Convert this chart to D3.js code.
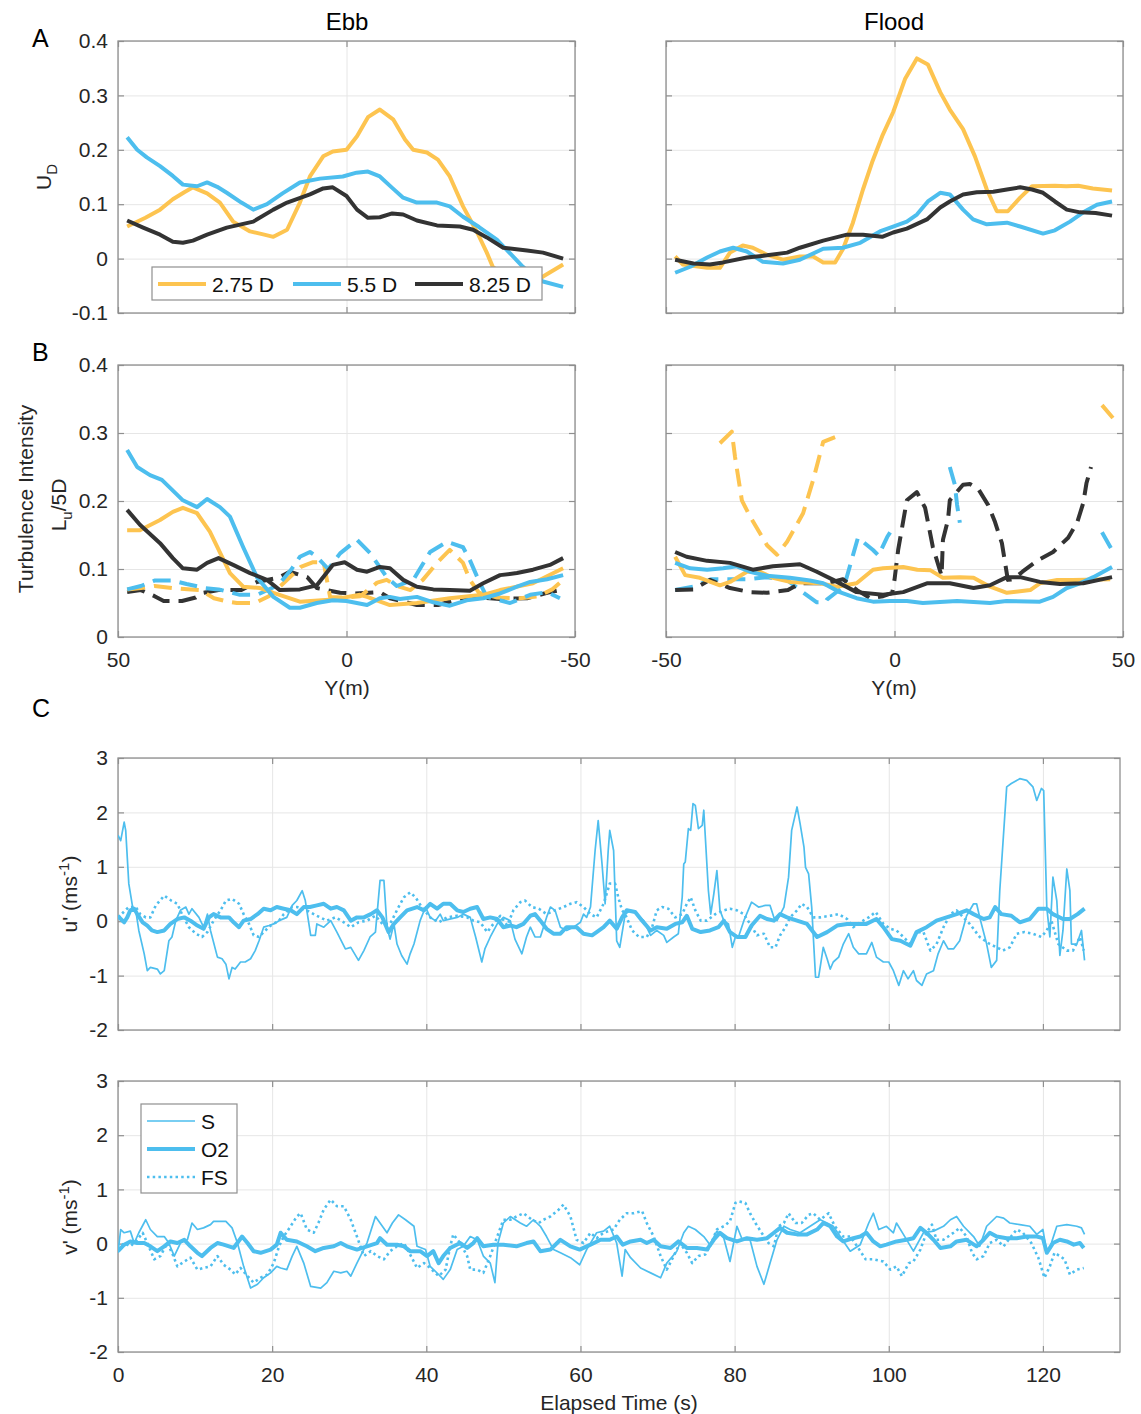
<!DOCTYPE html>
<html>
<head>
<meta charset="utf-8">
<script src="https://cdn.jsdelivr.net/npm/d3@7"></script>
<style>
  body { margin: 0; background: #fff; }
  text { font-family: "Liberation Sans", Arial, sans-serif; }
</style>
</head>
<body>
<svg id="svg"></svg>
<script>
// ---------- data ----------
// panel A : velocity deficit U_D vs Y(m)   [Y, U_D]
const ebbUD_275 = [[48,0.059],[44,0.075],[40.8,0.09],[38,0.109],[35.5,0.122],[33.6,0.131],[30.5,0.12],[27.7,0.103],[24.8,0.068],[21.1,0.05],[18,0.044],[16,0.04],[13,0.053],[10.2,0.103],[8,0.151],[5.1,0.188],[3,0.197],[0,0.2],[-2.3,0.225],[-4.7,0.26],[-7.3,0.274],[-10.2,0.256],[-12.8,0.219],[-14.6,0.2],[-17.6,0.195],[-20,0.182],[-22.6,0.151],[-25.5,0.096],[-28.6,0.048],[-30.7,0.011],[-32,-0.015],[-35,-0.035],[-38,-0.045],[-41,-0.045],[-43,-0.033],[-47.4,-0.011]]
const ebbUD_55 = [[48,0.223],[45.8,0.2],[43.7,0.186],[40.8,0.17],[38,0.152],[35.8,0.136],[32.7,0.133],[30.5,0.14],[28.3,0.132],[26.2,0.121],[23,0.103],[20.4,0.09],[17.4,0.1],[14,0.12],[10.2,0.14],[5.8,0.147],[0.8,0.151],[-2.2,0.158],[-4.7,0.16],[-7.3,0.151],[-10,0.13],[-12.4,0.112],[-15.4,0.103],[-19.8,0.103],[-22.6,0.096],[-25.5,0.077],[-29,0.058],[-32.9,0.035],[-38.6,-0.015],[-41,-0.032],[-43,-0.042],[-47.4,-0.052]]
const ebbUD_825 = [[48,0.07],[44.5,0.057],[40.8,0.044],[38,0.031],[35.8,0.029],[33.6,0.033],[30.5,0.044],[26.2,0.057],[20.4,0.068],[16,0.09],[13,0.103],[8,0.118],[5.1,0.129],[3,0.131],[0,0.115],[-2.3,0.09],[-4.7,0.075],[-7.3,0.076],[-10,0.083],[-12.4,0.081],[-15.4,0.07],[-19.8,0.061],[-24.8,0.059],[-27.7,0.053],[-30.7,0.039],[-34.3,0.02],[-39.5,0.015],[-43,0.011],[-47.4,0.0]]
const floodUD_275 = [[-48,0.004],[-46.3,-0.011],[-41,-0.017],[-38.2,-0.017],[-36,0.011],[-33.2,0.024],[-31,0.02],[-27.9,0.007],[-24.4,-0.002],[-20.7,0.004],[-17.8,0.004],[-15.6,-0.007],[-13,-0.007],[-11.3,0.017],[-9.1,0.066],[-6.9,0.127],[-4.9,0.177],[-2.7,0.225],[-0.3,0.269],[2.3,0.33],[4.9,0.368],[7.3,0.357],[10,0.306],[12.1,0.274],[15,0.238],[17.6,0.188],[20.2,0.127],[22.4,0.087],[24.8,0.087],[27.5,0.112],[30.1,0.133],[35.1,0.134],[37.6,0.133],[40.2,0.134],[43.4,0.129],[47.6,0.125]]
const floodUD_55 = [[-48,-0.026],[-44.7,-0.015],[-41,0.002],[-38.2,0.013],[-35.3,0.02],[-32.3,0.013],[-28.8,-0.006],[-24.4,-0.009],[-20.7,-0.002],[-15.6,0.018],[-11.3,0.02],[-7.5,0.029],[-3.2,0.05],[-0.3,0.059],[2.7,0.068],[4.9,0.081],[7.3,0.105],[10,0.121],[12.1,0.118],[15,0.09],[17.2,0.072],[20.2,0.063],[24.6,0.066],[27.5,0.059],[32.5,0.046],[35.1,0.052],[38.4,0.068],[41.3,0.085],[44.3,0.099],[47.6,0.105]]
const floodUD_825 = [[-48,-0.002],[-44,-0.009],[-40.4,-0.011],[-37.5,-0.007],[-32.3,0.002],[-27.9,0.006],[-23.5,0.011],[-20.7,0.02],[-15.6,0.033],[-10.4,0.044],[-6.9,0.044],[-2.7,0.04],[-0.3,0.048],[2.7,0.055],[7.1,0.072],[10,0.094],[12.1,0.105],[15,0.118],[18,0.122],[21.6,0.123],[24.6,0.127],[27.5,0.131],[30.1,0.127],[32.5,0.121],[35.1,0.105],[37.7,0.09],[40.6,0.085],[44,0.084],[47.6,0.079]]

// panel B : turbulence intensity (solid) and L_u/5D (dashed)   [Y, value]
const ebbTI_275 = [[48,0.157],[45.2,0.157],[40.8,0.172],[38,0.184],[35.8,0.19],[32.7,0.182],[29.9,0.155],[25.5,0.094],[22.6,0.074],[18.9,0.072],[16,0.065],[10.2,0.052],[3,0.055],[-2.9,0.062],[-4.5,0.059],[-9.5,0.047],[-15.4,0.05],[-22.6,0.057],[-29.9,0.062],[-33.6,0.069],[-40.8,0.079],[-47.4,0.101]]
const ebbTI_55 = [[48,0.275],[45.8,0.25],[43,0.238],[40.4,0.231],[35.8,0.201],[32.7,0.191],[30.5,0.203],[27.7,0.191],[25.5,0.177],[22.6,0.132],[19.6,0.088],[16,0.059],[12.4,0.043],[10.2,0.043],[6.5,0.05],[3,0.054],[0,0.053],[-4.5,0.047],[-7.3,0.057],[-9.5,0.059],[-11.7,0.056],[-15.4,0.059],[-19,0.051],[-22.6,0.046],[-26.3,0.054],[-29.9,0.057],[-33.6,0.064],[-37.3,0.074],[-40.2,0.081],[-43.9,0.085],[-47.4,0.091]]
const ebbTI_825 = [[48,0.187],[45.2,0.165],[40.8,0.138],[38,0.116],[35.8,0.101],[32.7,0.099],[30.5,0.109],[28,0.116],[24.8,0.106],[21.1,0.094],[17.4,0.084],[14.6,0.069],[10.2,0.07],[6.5,0.076],[3,0.106],[0.4,0.11],[-2.3,0.099],[-4.5,0.096],[-7.3,0.103],[-9.5,0.101],[-12.4,0.084],[-15.4,0.074],[-19,0.07],[-22.6,0.069],[-27,0.068],[-29.9,0.079],[-33.6,0.091],[-37.3,0.094],[-40.8,0.099],[-44.5,0.106],[-47.4,0.116]]
const ebbLu_275 = [[48,0.07],[45,0.072],[42,0.075],[38,0.072],[34,0.07],[32,0.069],[29,0.057],[26,0.052],[24,0.05],[20,0.05],[17,0.06],[14.6,0.074],[10,0.103],[7.3,0.11],[5,0.11],[3.6,0.059],[0,0.058],[-3,0.06],[-6.7,0.08],[-8.8,0.084],[-11,0.075],[-14,0.069],[-16.7,0.084],[-19.8,0.109],[-22.6,0.128],[-25.5,0.109],[-27,0.084],[-29,0.065],[-33,0.058],[-38,0.057],[-42,0.06],[-45,0.07],[-47.4,0.084]]
const ebbLu_55 = [[48,0.07],[45,0.075],[42,0.083],[38,0.083],[35,0.078],[31,0.072],[28,0.07],[23.3,0.062],[19.6,0.062],[15,0.076],[12,0.1],[10.2,0.118],[8,0.125],[6.5,0.118],[4,0.1],[1.4,0.123],[-2.3,0.143],[-5.2,0.123],[-8.8,0.088],[-11,0.075],[-14.6,0.084],[-18.3,0.125],[-22,0.14],[-25.5,0.132],[-27,0.113],[-29.2,0.079],[-30.7,0.059],[-35.8,0.05],[-40.2,0.062],[-43.9,0.066],[-46.7,0.057]]
const ebbLu_825 = [[48,0.066],[45,0.069],[42,0.06],[40,0.053],[36,0.053],[33,0.058],[31.4,0.065],[28,0.069],[23,0.069],[19.6,0.081],[15,0.087],[12.4,0.096],[8.6,0.088],[6.5,0.072],[1.4,0.065],[-1.5,0.064],[-7.3,0.066],[-9.5,0.057],[-15.4,0.047],[-20,0.047],[-26.3,0.059],[-33.6,0.056],[-39.5,0.057],[-43.9,0.065],[-46,0.068]]
const floodTI_275 = [[-48,0.118],[-45.8,0.091],[-42.6,0.087],[-38.2,0.076],[-36,0.081],[-32.3,0.096],[-29.4,0.096],[-26.6,0.087],[-22.9,0.081],[-16.3,0.079],[-12.6,0.074],[-8.3,0.079],[-4.7,0.099],[-2.5,0.101],[1.9,0.103],[5,0.099],[7.9,0.098],[10.6,0.087],[14.3,0.088],[17.3,0.087],[20.9,0.074],[24.6,0.065],[29.7,0.069],[31.8,0.079],[35.6,0.084],[39,0.084],[47.2,0.085]]
const floodTI_55 = [[-48,0.109],[-44.7,0.101],[-41,0.099],[-37.5,0.101],[-34.5,0.104],[-31.6,0.096],[-27.9,0.09],[-26,0.089],[-22.9,0.087],[-18.5,0.083],[-15.6,0.079],[-12,0.066],[-8.3,0.057],[-4.7,0.052],[-1,0.053],[2.7,0.053],[6.2,0.05],[13.7,0.053],[20.9,0.05],[24.5,0.053],[31.8,0.052],[34.7,0.059],[37.7,0.072],[40.6,0.079],[43.5,0.088],[47.6,0.103]]
const floodTI_825 = [[-48,0.125],[-45.5,0.118],[-41,0.112],[-36,0.109],[-31,0.099],[-26.6,0.104],[-20.7,0.107],[-17,0.096],[-13.4,0.084],[-8.3,0.066],[-2.5,0.062],[1.9,0.066],[7.1,0.079],[12.1,0.079],[17.3,0.072],[20.9,0.076],[24.6,0.088],[27.5,0.088],[31.8,0.081],[36.2,0.078],[41.3,0.079],[47.6,0.088]]
const floodLu_275 = [[-38.2,0.285],[-35.6,0.302],[-34.9,0.265],[-33.4,0.201],[-31.6,0.177],[-27.9,0.135],[-25.7,0.121],[-23.5,0.14],[-20,0.182],[-17.8,0.231],[-15.6,0.287],[-13,0.294],[-12,null],[44,null],[45.4,0.341],[47.8,0.322]]
const floodLu_55 = [[-48,0.069],[-44,0.074],[-40,0.085],[-36.5,0.085],[-32,0.085],[-28,0.088],[-23.5,0.084],[-20.7,0.069],[-17,0.051],[-15.2,0.051],[-14.8,0.055],[-11,0.075],[-8,0.146],[-4.7,0.128],[-3.5,0.12],[-1.6,0.147],[0.1,0.165],[1,null],[11,null],[12.1,0.25],[13.2,0.224],[13.7,0.194],[14.3,0.168],[15,null],[44,null],[45.4,0.154],[47.6,0.128]]
const floodLu_825 = [[-48,0.069],[-44,0.07],[-40.4,0.084],[-36,0.072],[-31.6,0.066],[-27.9,0.065],[-23.3,0.069],[-20.7,0.079],[-14.8,0.079],[-11.3,0.085],[-8.2,0.069],[-5.3,0.057],[-2.5,0.06],[-0.5,0.065],[0,0.084],[0.8,0.128],[2.7,0.201],[4.9,0.213],[6.7,0.19],[8.4,0.132],[10.3,0.09],[10.6,0.143],[11.7,0.172],[12.1,0.201],[15,0.224],[16.5,0.225],[18.3,0.218],[20.5,0.194],[22,0.169],[23.5,0.138],[24.2,0.109],[24.8,0.084],[26,0.085],[28,0.096],[31.4,0.113],[34.7,0.125],[38,0.146],[40,0.169],[41.3,0.197],[42,0.226],[43,0.25]]

// panel C : velocity fluctuations vs elapsed time   [t, value]
const uS = [[0,1.58],[0.35,1.48],[0.8,1.82],[1,1.67],[1.4,0.69],[1.9,0.26],[2.3,0.2],[2.7,-0.17],[3.4,-0.6],[3.8,-0.91],[4.2,-0.85],[5.1,-0.88],[5.5,-0.97],[6,-0.91],[6.6,-0.36],[7,-0.29],[7.5,0.01],[8.1,0.2],[8.8,0.26],[9.2,0.13],[9.6,0.23],[10.5,0.07],[11.1,-0.11],[11.6,0.13],[12,-0.17],[12.9,-0.66],[13.5,-0.69],[14,-0.79],[14.4,-1.06],[14.8,-0.85],[15.2,-0.88],[15.9,-0.75],[16.5,-0.75],[17.2,-0.69],[17.8,-0.54],[18.3,-0.36],[18.9,-0.11],[19.6,-0.08],[20.2,-0.05],[20.9,0.01],[21.9,0.07],[22.6,0.29],[23.2,0.38],[23.9,0.56],[24.3,0.38],[25,-0.26],[25.6,-0.26],[25.8,-0.05],[26.7,-0.11],[27.6,0.01],[28.4,-0.2],[29.5,-0.51],[30.2,-0.48],[31.2,-0.72],[31.9,-0.54],[32.7,-0.29],[33.4,-0.2],[34,0.75],[34.5,0.75],[34.9,-0.11],[35.3,-0.33],[35.8,-0.05],[36.2,-0.42],[36.8,-0.63],[37.5,-0.79],[37.9,-0.6],[38.4,-0.42],[39.2,0.01],[39.9,0.26],[40.5,0.07],[41.2,0.01],[41.8,0.13],[42.2,0.01],[44,0.07],[44.8,0.13],[45.7,0.07],[46.4,-0.29],[47.2,-0.75],[47.6,-0.51],[48.3,-0.29],[49.2,-0.05],[50,0.07],[50.9,0.01],[51.5,-0.33],[52.4,-0.6],[53,-0.29],[53.5,-0.11],[54.1,-0.29],[54.8,-0.29],[55.6,0.07],[56.1,0.26],[56.7,0.2],[57.4,-0.11],[58.2,-0.17],[59.1,-0.11],[60,-0.02],[60.4,0.13],[60.8,0.07],[61.3,0.26],[61.9,1.3],[62.3,1.85],[62.8,1.05],[63.2,0.32],[63.6,1.3],[63.8,1.67],[64.3,1.3],[64.7,-0.36],[65.1,-0.48],[65.8,0.13],[66.5,0.2],[67.3,0.13],[68.2,0.01],[69.1,-0.26],[69.9,-0.17],[70.8,-0.26],[71.2,-0.39],[72.1,-0.29],[72.7,-0.23],[73.2,0.44],[73.4,1.05],[73.6,1.09],[74,1.7],[74.3,1.67],[74.6,2.16],[74.9,2.13],[75.3,1.7],[75.8,1.76],[76,2.04],[76.3,1.3],[76.6,0.56],[76.9,0.13],[77.3,0.5],[77.7,0.93],[78.1,0.2],[78.6,0.01],[79.2,-0.05],[79.7,-0.48],[80.1,-0.29],[80.5,-0.29],[81.2,0.01],[82.2,0.35],[83.1,0.26],[84,0.29],[84.6,0.29],[85.1,0.07],[85.5,0.01],[86.4,0.26],[87,0.81],[87.4,1.67],[88.1,2.1],[88.5,1.79],[89,1.36],[89.2,0.99],[89.6,0.87],[90,0.26],[90.5,-1.03],[90.9,-1.03],[91.5,-0.48],[92,-0.69],[92.4,-0.88],[92.8,-0.75],[93.5,-0.66],[94.1,-0.42],[94.8,-0.23],[95.4,-0.48],[96.1,-0.6],[97.1,-0.6],[97.8,-0.39],[98.4,-0.66],[99.3,-0.75],[100,-0.75],[100.6,-0.91],[101.3,-1.18],[101.9,-0.91],[102.5,-1.06],[103.2,-0.91],[103.6,-1.09],[104.3,-1.18],[104.9,-0.97],[105.8,-0.91],[106.4,-0.6],[107.1,-0.36],[107.7,-0.51],[108.4,-0.51],[109.2,-0.36],[110.1,0.1],[111,0.32],[111.4,0.32],[111.8,0.07],[112.7,-0.42],[113.3,-0.85],[114,-0.72],[114.4,0.56],[115.3,2.47],[115.9,2.53],[117,2.62],[117.9,2.59],[118.7,2.47],[119.2,2.22],[119.8,2.44],[120.1,2.4],[120.5,0.26],[120.9,-0.29],[121.3,0.81],[121.8,0.38],[122.2,-0.63],[122.6,-0.17],[123.1,0.96],[123.5,0.56],[123.7,-0.42],[124.4,-0.42],[125,-0.17],[125.4,-0.72]]
const uO2 = [[0,0.1],[0.35,0.04],[0.8,-0.02],[1.2,0.07],[1.6,0.2],[2.1,0.23],[2.5,0.13],[3.2,-0.02],[3.8,-0.08],[4.4,-0.17],[5.1,-0.2],[6,-0.17],[6.8,-0.05],[7.7,0.04],[8.6,0.07],[9.4,0.01],[10.3,-0.08],[11.1,-0.14],[11.8,0.07],[12.4,0.13],[13.3,0.07],[14.4,0.07],[15,-0.02],[15.7,-0.11],[16.3,0.01],[17.2,0.04],[18.1,0.13],[18.9,0.23],[19.8,0.2],[20.6,0.26],[21.5,0.23],[22.4,0.2],[23.2,0.13],[24.1,0.26],[24.9,0.26],[25.8,0.29],[26.7,0.32],[27.6,0.23],[28.4,0.26],[29.3,0.2],[30.2,0.01],[31,0.07],[31.9,0.07],[32.8,0.13],[33.6,0.2],[34.3,0.07],[35.1,-0.2],[35.8,-0.05],[36.6,0.07],[37.5,0.2],[38.8,0.26],[39.7,0.2],[40.5,0.32],[41.4,0.23],[42.2,0.32],[43.1,0.32],[44,0.2],[44.8,0.17],[45.7,0.23],[46.6,0.26],[47.4,0.04],[48.3,0.07],[49.2,0.04],[50,-0.11],[50.9,-0.08],[51.7,-0.11],[52.6,-0.05],[53.5,0.1],[54.1,0.13],[54.8,0.01],[55.6,-0.14],[56.5,-0.23],[57.4,-0.23],[58.2,-0.11],[59.5,-0.11],[60.4,-0.23],[61.5,-0.26],[62.1,-0.2],[63,-0.11],[63.8,0.01],[64.7,-0.14],[65.4,0.07],[66,0.2],[67.1,0.17],[68,0.01],[69.1,-0.17],[69.9,-0.11],[71.2,-0.14],[72.3,-0.05],[73.2,-0.02],[73.8,0.1],[74.5,-0.14],[75.6,-0.2],[76.8,-0.17],[77.9,-0.11],[78.6,0.01],[79.4,-0.2],[80.3,-0.29],[81.4,-0.29],[82.2,-0.08],[83.3,0.1],[84.2,0.04],[85.1,0.01],[85.9,0.13],[86.8,0.07],[88.1,0.01],[89.4,-0.05],[90.7,-0.29],[92,-0.2],[93.3,-0.08],[94.6,-0.05],[95.9,-0.05],[97.1,-0.05],[98.4,0.04],[99.3,-0.11],[100.4,-0.33],[101.5,-0.36],[102.8,-0.45],[103.6,-0.2],[104.9,-0.11],[106.2,0.01],[107.5,0.07],[108.8,0.13],[110.1,0.2],[111,0.13],[112.3,0.04],[113.1,0.07],[113.8,0.26],[114.6,0.13],[115.9,0.1],[117,-0.02],[118.3,0.04],[119.4,0.23],[120.5,0.23],[121.3,0.13],[122.6,0.04],[123.5,0.04],[124.5,0.13],[125.4,0.23]]
const uFS = [[0,0.07],[1.4,0.26],[2.3,0.26],[2.9,0.13],[3.6,0.07],[4.2,0.07],[4.9,0.29],[6,0.47],[6.9,0.38],[7.7,0.32],[8.3,0.13],[9.2,-0.11],[10.1,-0.23],[10.9,-0.29],[11.6,-0.2],[12.4,0.01],[13.3,0.2],[14,0.38],[14.8,0.41],[15.7,0.32],[16.3,0.13],[17,-0.05],[17.6,-0.26],[18.3,-0.29],[18.9,-0.2],[19.8,-0.08],[20.9,0.01],[21.5,0.13],[22.6,0.26],[23.2,0.26],[24.5,0.2],[25.8,0.1],[27.1,0.01],[28.2,0.07],[29.3,-0.02],[30.2,-0.11],[31.2,-0.02],[32.3,0.01],[33.4,0.1],[34.3,-0.05],[35.3,-0.05],[36.4,0.26],[37.1,0.44],[37.9,0.53],[38.6,0.44],[39.4,0.26],[40.5,0.07],[41.6,-0.02],[42.7,0.07],[44,0.1],[45.3,0.07],[46.1,0.01],[47,-0.02],[47.9,-0.2],[48.7,-0.05],[49.6,0.1],[50.5,-0.08],[51.3,0.2],[52.2,0.35],[52.8,0.38],[53.7,0.26],[54.6,0.23],[55.6,0.13],[56.7,0.2],[57.8,0.26],[58.7,0.32],[59.5,0.35],[60.4,0.26],[61.3,0.13],[62.1,0.07],[63,0.32],[63.8,0.69],[64.5,0.69],[64.9,0.44],[65.4,0.2],[65.8,0.13],[66.7,-0.17],[67.6,-0.29],[68.6,-0.29],[69.3,-0.11],[69.9,0.2],[70.6,0.26],[71.4,0.23],[72.3,0.07],[73.2,0.13],[73.8,0.32],[74.3,0.44],[74.9,0.2],[75.6,0.01],[76.4,0.01],[77.5,0.13],[78.6,0.2],[79.4,0.23],[80.3,0.2],[81.2,0.13],[82,-0.05],[82.9,-0.26],[83.8,-0.23],[84.6,-0.48],[85.3,-0.48],[85.9,-0.26],[86.6,-0.11],[87.2,0.07],[88.1,0.2],[88.7,0.32],[89.4,0.26],[90.2,0.07],[91.1,0.07],[92.4,0.1],[93.5,0.13],[94.6,0.04],[95.4,-0.11],[96.3,-0.02],[97.4,0.07],[98.3,0.17],[99.3,-0.05],[100.2,-0.14],[101,-0.17],[101.9,-0.29],[102.8,-0.42],[103.6,-0.2],[104.5,-0.2],[105.4,-0.54],[106.2,-0.42],[107.1,-0.11],[108,0.13],[108.8,0.2],[110.5,-0.05],[111.8,-0.29],[113.1,-0.42],[114,-0.48],[114.8,-0.54],[115.7,-0.48],[116.6,-0.23],[117.6,-0.2],[118.7,-0.23],[119.8,-0.29],[120.5,-0.17],[121.1,0.01],[122,-0.42],[123.1,-0.54],[123.9,-0.54],[124.8,-0.29],[125.3,-0.54]]
const vS = [[0,-0.17],[0.35,0.26],[0.8,0.2],[1.6,0.23],[2.1,0.01],[2.7,0.2],[3.6,0.44],[4.2,0.26],[5.1,0.13],[6,0.13],[6.6,0.01],[7.3,-0.23],[8.1,0.01],[9,0.07],[9.6,0.38],[10.3,0.26],[11.1,0.29],[12,0.35],[12.4,0.41],[13.3,0.41],[14,0.41],[14.8,0.29],[15.5,0.01],[16.3,-0.42],[17.2,-0.82],[18.1,-0.75],[18.9,-0.63],[19.8,-0.54],[20.6,-0.42],[21.1,-0.45],[21.9,-0.48],[22.6,-0.23],[23.2,-0.05],[24.1,-0.36],[25,-0.79],[26.3,-0.82],[27.1,-0.72],[28,-0.51],[28.9,-0.54],[29.7,-0.51],[30.2,-0.6],[31,-0.36],[32.3,0.01],[33.4,0.5],[34,0.38],[34.9,0.2],[35.6,0.38],[36.4,0.53],[37.3,0.44],[38.4,0.32],[38.8,-0.05],[39.9,-0.11],[40.5,-0.42],[41.6,-0.57],[42.2,-0.66],[43.1,-0.48],[44,-0.11],[44.8,-0.05],[45.7,0.13],[46.6,0.07],[47.4,-0.23],[48.3,-0.36],[48.9,-0.72],[49.3,0.01],[50,0.38],[50.9,0.5],[52.2,0.38],[53,0.32],[53.9,0.44],[54.8,0.32],[55.6,0.13],[56.5,-0.11],[57.4,-0.17],[58.7,-0.26],[59.9,-0.39],[60.8,-0.11],[62.1,0.2],[63,0.23],[63.8,0.32],[64.7,0.01],[65.4,-0.6],[65.8,-0.11],[66.5,-0.26],[67.8,-0.45],[69.1,-0.54],[70.4,-0.63],[71.2,-0.36],[72.5,-0.14],[73.4,0.2],[74,0.32],[74.9,0.26],[76,0.13],[76.8,-0.02],[77.7,0.23],[78.6,0.1],[79.4,-0.33],[80.3,0.32],[81,0.07],[82,0.07],[82.9,-0.42],[83.8,-0.75],[84.6,-0.36],[85.5,0.07],[86.4,0.32],[87.2,0.26],[88.5,0.2],[89.8,0.32],[91.1,0.44],[92,0.38],[92.8,0.32],[93.7,0.13],[95,-0.14],[96.3,-0.02],[97.4,0.38],[98,0.56],[98.7,0.26],[99.7,0.32],[100.6,0.2],[101,0.38],[101.9,0.17],[103.2,-0.14],[104.5,0.2],[105.8,0.23],[107.1,0.32],[108,0.44],[108.8,0.5],[109.7,0.32],[111,0.13],[111.8,-0.05],[112.7,0.32],[114,0.5],[114.9,0.47],[115.7,0.38],[117,0.35],[118.3,0.32],[119.2,0.17],[120,0.26],[120.5,-0.17],[121.1,0.01],[121.8,0.32],[123.1,0.35],[124.4,0.32],[125,0.29],[125.4,0.17]]
const vO2 = [[0,-0.14],[0.8,-0.02],[1.6,0.04],[2.5,0.01],[3.4,0.01],[4.2,-0.05],[5.1,-0.14],[6,-0.05],[6.8,0.04],[7.7,0.01],[8.6,0.07],[9.4,-0.05],[10.3,-0.17],[10.9,-0.23],[12,-0.08],[12.9,0.01],[13.7,-0.02],[15,-0.08],[16.1,0.13],[16.8,0.01],[17.6,-0.14],[18.5,-0.17],[19.8,-0.11],[20.6,-0.02],[21.1,0.2],[21.9,0.07],[23.2,0.04],[24.5,-0.05],[25.6,-0.14],[26.7,-0.08],[28,-0.05],[28.9,0.01],[29.7,-0.05],[31,-0.11],[32.3,-0.05],[33.6,0.01],[34,0.1],[34.9,-0.02],[36.2,-0.02],[37.1,-0.05],[37.9,-0.14],[39.2,-0.14],[40.1,-0.23],[40.9,-0.14],[41.6,-0.36],[42.2,-0.23],[43.1,-0.08],[44.4,0.01],[45.3,-0.08],[46.1,0.01],[46.6,0.1],[47.4,-0.05],[48.7,-0.02],[50,-0.02],[51.7,-0.05],[53,0.01],[53.9,0.04],[54.8,-0.14],[56.1,-0.11],[57.4,0.07],[58.7,-0.05],[59.9,-0.11],[61.3,-0.02],[62.6,0.07],[63.8,0.07],[64.7,0.13],[65.5,-0.02],[66.5,0.04],[67.8,0.07],[68.6,0.01],[69.5,0.07],[70.4,-0.05],[71.7,-0.08],[72.7,0.04],[73.8,-0.08],[75.1,-0.08],[76.4,-0.11],[77.3,0.07],[78.1,0.2],[79,0.1],[80.3,0.04],[81.6,0.1],[82.9,0.07],[84.2,0.1],[85.1,0.2],[85.9,0.29],[86.8,0.2],[88.1,0.17],[89.4,0.17],[90.7,0.26],[91.5,0.38],[92.4,0.32],[93.3,0.13],[94.1,0.04],[95.4,0.1],[96.3,0.13],[97.1,0.2],[98,0.04],[98.9,-0.05],[99.7,-0.02],[101,0.04],[102.3,0.07],[103.2,0.1],[104.1,0.29],[104.9,0.2],[105.8,0.07],[106.7,-0.08],[108,-0.05],[108.8,0.04],[110.1,0.07],[111.4,-0.05],[112.3,0.07],[113.1,0.2],[114,0.13],[115.3,0.1],[116.6,0.1],[117.9,0.13],[119.2,0.13],[120,0.1],[120.5,-0.17],[121.3,0.01],[122.2,0.07],[123.1,0.04],[124,-0.02],[124.8,0.01],[125.3,-0.08]]
const vFS = [[0,-0.11],[0.8,0.01],[1.6,-0.05],[2.5,0.07],[3.2,0.2],[3.8,0.01],[4.7,-0.29],[5.5,-0.23],[6.4,0.01],[7.1,-0.2],[7.7,-0.42],[8.6,-0.33],[9.4,-0.26],[10.3,-0.48],[11.1,-0.45],[12,-0.42],[12.9,-0.23],[13.7,-0.39],[14.6,-0.48],[15.2,-0.57],[15.9,-0.45],[16.8,-0.6],[17.6,-0.72],[18.5,-0.63],[19.4,-0.57],[20.2,-0.36],[20.9,-0.05],[21.5,0.13],[22.4,0.32],[23.2,0.5],[23.7,0.56],[24.5,0.26],[25.4,0.2],[26,0.38],[26.7,0.63],[27.6,0.81],[28.4,0.69],[29.3,0.69],[30.2,0.44],[31,0.13],[31.9,-0.23],[32.8,-0.14],[33.6,-0.23],[34.5,-0.29],[35.3,-0.14],[36.2,-0.05],[37.1,0.01],[37.9,-0.2],[38.8,-0.45],[39.7,-0.36],[40.5,-0.45],[41.6,-0.6],[42.5,-0.48],[43.1,-0.05],[43.5,0.17],[44.4,0.01],[45.3,-0.23],[45.7,-0.48],[46.6,-0.48],[47.4,-0.54],[48.3,-0.23],[49.2,0.13],[50,0.44],[50.9,0.44],[51.7,0.5],[52.6,0.56],[53.7,0.44],[54.6,0.38],[55.2,0.44],[56.1,0.5],[57.2,0.63],[57.8,0.72],[58.7,0.5],[59.5,0.07],[60.4,0.01],[61.3,0.2],[62.1,0.1],[63,0.2],[64.3,0.26],[65.1,0.44],[66,0.56],[66.9,0.56],[68,0.6],[68.6,0.38],[69.5,0.13],[70.4,-0.23],[71.2,-0.48],[72.1,-0.23],[72.9,0.01],[73.8,-0.17],[74.5,-0.36],[75.3,-0.23],[76.2,-0.2],[76.8,-0.05],[77.7,0.26],[78.6,0.32],[79.4,0.41],[80.1,0.75],[80.5,0.78],[81.4,0.75],[82,0.56],[82.7,0.38],[83.5,0.2],[84.4,0.01],[85.1,-0.05],[85.7,0.32],[86.4,0.38],[87,0.56],[87.9,0.38],[88.7,0.38],[89.6,0.53],[90.2,0.56],[91.1,0.44],[92.2,0.56],[93,0.32],[94.1,0.13],[95,0.13],[95.9,-0.05],[97,-0.29],[98,-0.29],[99.3,-0.33],[100.2,-0.48],[101,-0.42],[101.7,-0.6],[102.6,-0.36],[103.2,-0.33],[104.1,-0.11],[104.9,0.2],[105.6,0.35],[106.2,0.07],[107.1,0.07],[108.4,0.2],[109.2,0.29],[110.1,0.13],[110.8,-0.17],[111.4,-0.29],[112.3,-0.23],[113.1,0.01],[114,0.07],[114.9,-0.05],[115.7,0.1],[116.6,0.26],[117.4,0.2],[118.5,0.01],[119.4,-0.26],[120.2,-0.63],[120.9,-0.42],[121.5,-0.17],[122.2,-0.23],[122.8,-0.29],[123.5,-0.57],[124.4,-0.48],[125.3,-0.45]]

// tick values / labels
const yTicksAB = [-0.1, 0, 0.1, 0.2, 0.3, 0.4]
const yTicksB = [0, 0.1, 0.2, 0.3, 0.4]
const xTicksY = [-50, 0, 50]
const yTicksC = [-2, -1, 0, 1, 2, 3]
const xTicksC = [0, 20, 40, 60, 80, 100, 120]
const ddLabels = ['2.75 D', '5.5 D', '8.25 D']
const compLabels = ['S', 'O2', 'FS']

// ---------- setup ----------
const W = 1141, H = 1414
const svg = d3.select('#svg').attr('width', W).attr('height', H)
const orange = '#fdc450', blue = '#4dbeee', black = '#333333'
const boxCol = '#8f8f8f', gridCol = '#e6e6e6', txtCol = '#262626'
const fnt = '"Liberation Sans", Arial, sans-serif'
let clipN = 0

function panel(o) {
  let x = d3.scaleLinear().domain(o.xd).range([o.l, o.r])
  let y = d3.scaleLinear().domain(o.yd).range([o.b, o.t])
  let w = o.r - o.l, h = o.b - o.t
  let g = svg.append('g')
  let clean = a => { a.select('.domain').remove(); a.selectAll('line').attr('stroke', gridCol) }
  // grid
  g.append('g').attr('transform', `translate(0,${o.b})`)
    .call(d3.axisBottom(x).tickValues(o.xt).tickSize(-h).tickFormat(''))
    .call(clean)
  g.append('g').attr('transform', `translate(${o.l},0)`)
    .call(d3.axisLeft(y).tickValues(o.yt).tickSize(-w).tickFormat(''))
    .call(clean)
  // box
  g.append('rect').attr('x', o.l).attr('y', o.t).attr('width', w).attr('height', h)
    .attr('fill', 'none').attr('stroke', boxCol).attr('stroke-width', 1.3)
  // ticks (inside), labels on left / bottom
  let style = a => {
    a.select('.domain').remove()
    a.attr('font-size', 21).attr('font-family', fnt).style('color', txtCol)
    a.selectAll('line').attr('stroke', boxCol).attr('stroke-width', 1.2)
  }
  g.append('g').attr('transform', `translate(${o.l},0)`)
    .call(d3.axisLeft(y).tickValues(o.yt).tickSize(-6).tickPadding(10)
      .tickFormat(o.yLab ? o.yf : ''))
    .call(style)
  g.append('g').attr('transform', `translate(${o.r},0)`)
    .call(d3.axisRight(y).tickValues(o.yt).tickSize(-6).tickFormat(''))
    .call(style)
  g.append('g').attr('transform', `translate(0,${o.b})`)
    .call(d3.axisBottom(x).tickValues(o.xt).tickSize(-6).tickPadding(15)
      .tickFormat(o.xLab ? fmt0 : ''))
    .call(style)
  g.append('g').attr('transform', `translate(0,${o.t})`)
    .call(d3.axisTop(x).tickValues(o.xt).tickSize(-6).tickFormat(''))
    .call(style)
  let id = 'clip' + (clipN++)
  svg.append('clipPath').attr('id', id).append('rect')
    .attr('x', o.l).attr('y', o.t).attr('width', w).attr('height', h)
  let plot = svg.append('g').attr('clip-path', `url(#${id})`)
  let line = d3.line().defined(d => d[1] != null).x(d => x(d[0])).y(d => y(d[1]))
  let draw = (data, col, sw, dash) => plot.append('path').datum(data)
    .attr('d', line).attr('fill', 'none').attr('stroke', col)
    .attr('stroke-width', sw).attr('stroke-dasharray', dash || null)
    .attr('stroke-linejoin', 'round')
  return { x, y, draw }
}

// plain hyphen minus, like the original
function fmt1(d) { return d === 0 ? '0' : d3.format('.1f')(d).replace('\u2212', '-') }
function fmt0(d) { return String(d) }

// ---------- panel A ----------
let aE = panel({ l: 118, r: 575, t: 41, b: 313, xd: [50, -50], yd: [-0.1, 0.4], xt: xTicksY, yt: yTicksAB, yLab: true, yf: fmt1 })
aE.draw(ebbUD_275, orange, 4); aE.draw(ebbUD_55, blue, 4); aE.draw(ebbUD_825, black, 4)
let aF = panel({ l: 666, r: 1123, t: 41, b: 313, xd: [-50, 50], yd: [-0.1, 0.4], xt: xTicksY, yt: yTicksAB })
aF.draw(floodUD_275, orange, 4); aF.draw(floodUD_55, blue, 4); aF.draw(floodUD_825, black, 4)

// ---------- panel B ----------
const dsh = '18,9'
let bE = panel({ l: 118, r: 575, t: 365, b: 637, xd: [50, -50], yd: [0, 0.4], xt: xTicksY, yt: yTicksB, yLab: true, xLab: true, yf: fmt1 })
bE.draw(ebbLu_825, black, 4, dsh); bE.draw(ebbLu_275, orange, 4, dsh); bE.draw(ebbLu_55, blue, 4, dsh)
bE.draw(ebbTI_275, orange, 4); bE.draw(ebbTI_55, blue, 4); bE.draw(ebbTI_825, black, 4)
let bF = panel({ l: 666, r: 1123, t: 365, b: 637, xd: [-50, 50], yd: [0, 0.4], xt: xTicksY, yt: yTicksB, xLab: true })
bF.draw(floodLu_275, orange, 4, dsh); bF.draw(floodLu_55, blue, 4, dsh); bF.draw(floodLu_825, black, 4, dsh)
bF.draw(floodTI_275, orange, 4); bF.draw(floodTI_55, blue, 4); bF.draw(floodTI_825, black, 4)

// ---------- panel C ----------
const dot = '2.5,3.2'
let cU = panel({ l: 118, r: 1120, t: 758, b: 1030, xd: [0, 130], yd: [-2, 3], xt: xTicksC, yt: yTicksC, yLab: true, yf: fmt0 })
cU.draw(uFS, blue, 2.6, dot); cU.draw(uS, blue, 1.7); cU.draw(uO2, blue, 4)
let cV = panel({ l: 118, r: 1120, t: 1081, b: 1352, xd: [0, 130], yd: [-2, 3], xt: xTicksC, yt: yTicksC, yLab: true, xLab: true, yf: fmt0 })
cV.draw(vFS, blue, 2.6, dot); cV.draw(vS, blue, 1.7); cV.draw(vO2, blue, 4)

// ---------- legends ----------
let legA = svg.append('g')
legA.append('rect').attr('x', 152).attr('y', 267).attr('width', 390).attr('height', 33)
  .attr('fill', '#fff').attr('stroke', boxCol).attr('stroke-width', 1.2)
let legAx = [158, 293, 415]
;[orange, blue, black].forEach((c, i) => {
  legA.append('line').attr('x1', legAx[i]).attr('x2', legAx[i] + 48).attr('y1', 284).attr('y2', 284)
    .attr('stroke', c).attr('stroke-width', 4)
  legA.append('text').attr('x', legAx[i] + 54).attr('y', 291.5).attr('font-size', 21)
    .attr('fill', '#111').text(ddLabels[i])
})

let legC = svg.append('g')
legC.append('rect').attr('x', 141).attr('y', 1104).attr('width', 96).attr('height', 89)
  .attr('fill', '#fff').attr('stroke', boxCol).attr('stroke-width', 1.2)
let legCs = [[1.7, null], [4, null], [2.6, dot]]
compLabels.forEach((s, i) => {
  let yy = 1121 + i * 28
  legC.append('line').attr('x1', 147).attr('x2', 195).attr('y1', yy).attr('y2', yy)
    .attr('stroke', blue).attr('stroke-width', legCs[i][0]).attr('stroke-dasharray', legCs[i][1])
  legC.append('text').attr('x', 201).attr('y', yy + 7.5).attr('font-size', 21).attr('fill', '#111').text(s)
})

// ---------- labels ----------
let lab = (x, y, t, sz, anchor, col) => svg.append('text').attr('x', x).attr('y', y)
  .attr('font-size', sz).attr('text-anchor', anchor || 'middle').attr('fill', col || '#000').text(t)
lab(32, 47, 'A', 25, 'start'); lab(32, 361, 'B', 25, 'start'); lab(32, 717, 'C', 25, 'start')
lab(347, 30, 'Ebb', 24); lab(894, 30, 'Flood', 24)
lab(347, 695, 'Y(m)', 21, 'middle', txtCol); lab(894, 695, 'Y(m)', 21, 'middle', txtCol)
lab(619, 1410, 'Elapsed Time (s)', 21, 'middle', txtCol)

let rot = (x, y) => svg.append('text').attr('transform', `translate(${x},${y}) rotate(-90)`)
  .attr('font-size', 21).attr('text-anchor', 'middle').attr('fill', txtCol)
let ud = rot(51, 177)
ud.append('tspan').text('U')
ud.append('tspan').attr('dy', 6).attr('font-size', 15).text('D')
rot(33, 499).text('Turbulence Intensity')
let lu = rot(66, 505)
lu.append('tspan').text('L')
lu.append('tspan').attr('dy', 6).attr('font-size', 15).text('u')
lu.append('tspan').attr('dy', -6).text('/5D')
;[[894, "u' (ms"], [1217, "v' (ms"]].forEach(p => {
  let t = rot(77, p[0])
  t.append('tspan').text(p[1])
  t.append('tspan').attr('dy', -8).attr('font-size', 15).text('-1')
  t.append('tspan').attr('dy', 8).text(')')
})
</script>
</body>
</html>
